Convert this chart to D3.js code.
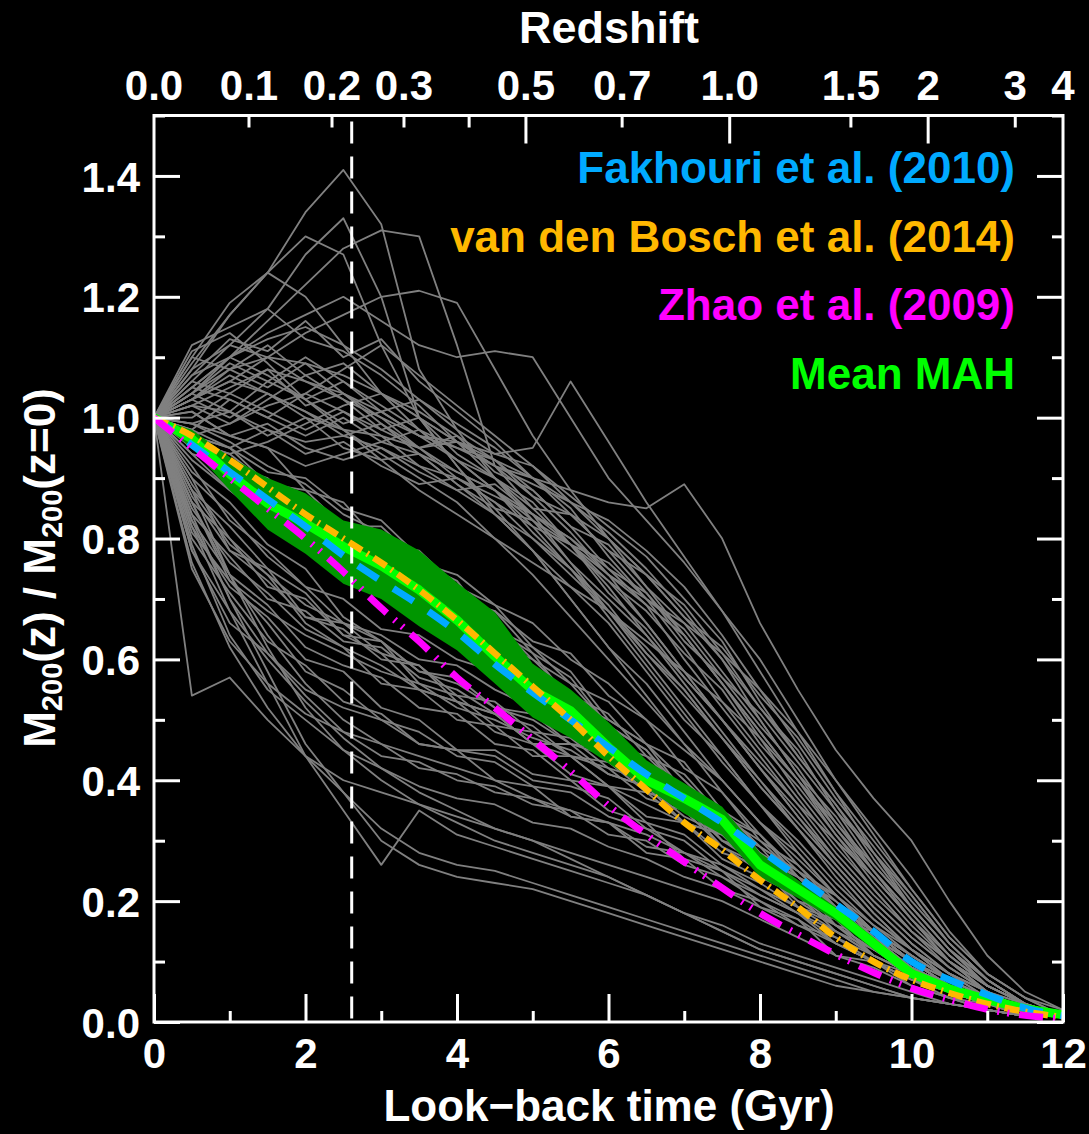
<!DOCTYPE html>
<html>
<head>
<meta charset="utf-8">
<script src="https://cdn.jsdelivr.net/npm/d3@7"></script>
<style>
  html, body { margin: 0; background: #000; }
  svg { display: block; }
  text { font-family: "Liberation Sans", Arial, Helvetica, sans-serif; font-weight: bold; }
</style>
</head>
<body>
<svg id="chart" width="1089" height="1134"></svg>
<script>
// Snapshot look-back times (Gyr)
const lookbackGyr = [0, 0.5, 1, 1.5, 2, 2.5, 3, 3.5, 4, 4.5, 5, 5.5, 6, 6.5, 7, 7.5, 8, 8.5, 9, 9.5, 10, 10.5, 11, 11.5, 12];

// Individual halo mass accretion histories, M200(z)/M200(0) in percent
const haloHistoriesPct = [
  [100,110,119,124,134,141,132,108,98,90,84,76,68,60,52,44,36,28,21,15,10,6,4,2,1],
  [100,106,112,118,127,133,120,100,92,84,78,70,62,56,48,40,33,26,20,14,10,6,4,2,1],
  [100,104,110,116,122,128,131,130,112,92,85,79,72,64,56,48,40,32,24,17,12,8,5,3,1],
  [100,109,117,124,130,127,112,100,92,85,78,70,62,54,46,38,31,24,18,13,9,6,4,2,1],
  [100,103,106,110,114,117,120,121,119,108,97,88,80,72,64,56,47,38,30,22,15,10,6,3,1],
  [100,108,117,124,120,112,104,98,93,88,82,75,67,59,51,43,36,29,22,16,11,7,4,2,1],
  [100,105,110,114,117,120,116,112,110,111,110,100,90,83,76,68,60,50,40,32,24,15,8,4,2],
  [100,103,107,104,100,98,97,95,96,94,95,106,96,86,77,68,58,48,38,28,20,13,7,3,1],
  [100,102,105,108,106,103,100,97,96,93,90,88,86,85,89,80,66,55,45,37,30,20,11,5,2],
  [100,104,108,110,109,107,104,100,96,92,87,81,74,66,58,50,42,34,27,20,14,9,5,3,1],
  [100,97,99,102,104,101,98,95,90,86,80,75,68,62,55,47,40,33,26,19,13,8,5,2,1],
  [100,108,112,110,106,104,100,95,91,88,83,76,70,64,57,50,43,36,28,21,15,10,6,3,1],
  [100,102,101,98,96,97,95,92,88,84,78,72,66,58,50,44,36,30,23,17,12,8,5,2,1],
  [100,111,114,109,103,98,94,90,86,80,74,67,60,53,46,40,33,27,21,15,10,6,4,2,1],
  [100,96,94,96,99,102,104,101,97,93,88,82,75,69,60,52,44,36,30,24,17,11,6,3,1],
  [100,105,103,100,104,108,112,107,102,97,92,86,80,74,67,60,52,44,36,28,21,13,7,3,1],
  [100,99,97,95,92,94,96,94,91,88,84,79,74,70,66,61,55,48,40,31,22,14,8,4,1],
  [100,107,110,113,115,112,108,103,99,95,90,84,78,71,64,56,48,40,32,25,18,11,6,3,1],
  [100,103,106,104,101,98,93,88,84,80,76,72,68,63,58,53,47,40,33,26,19,12,7,3,1],
  [100,96,93,87,84,81,75,73,68,62,59,53,49,42,39,33,27,23,19,14,10,6,4,2,1],
  [100,98,95,91,90,85,83,77,72,66,60,56,49,45,38,35,29,25,19,15,10,7,4,2,1],
  [100,94,88,86,80,78,75,69,67,62,59,53,50,46,40,34,30,24,20,15,11,7,4,2,1],
  [100,97,95,89,86,82,78,76,70,63,58,53,46,42,36,32,26,21,17,13,9,6,3,2,1],
  [100,99,96,92,89,84,81,76,74,69,66,60,56,50,45,40,33,28,21,16,12,7,4,2,1],
  [100,95,90,87,82,80,74,72,65,62,56,50,47,40,37,30,26,21,16,12,8,5,3,2,1],
  [100,101,97,95,88,86,79,78,72,69,62,58,50,46,38,35,28,24,19,15,11,7,4,2,1],
  [100,93,88,83,82,79,78,73,70,63,60,54,51,44,41,34,31,25,21,15,11,7,4,2,1],
  [100,97,92,90,84,82,77,75,70,68,61,57,49,45,37,34,27,24,18,14,10,7,4,2,1],
  [100,96,94,89,88,82,80,73,71,65,62,56,53,46,43,35,31,24,21,15,11,7,4,2,1],
  [100,98,91,88,82,81,75,74,69,68,63,61,54,50,42,38,30,26,19,15,10,6,3,2,1],
  [100,94,92,87,87,82,82,76,73,65,61,53,49,42,39,32,29,22,19,13,9,6,3,2,1],
  [100,80,71,63,59,53,51,46,45,40,39,34,33,28,27,22,20,16,14,10,8,5,3,2,1],
  [100,85,76,71,65,62,59,55,53,51,46,44,39,36,33,27,24,21,15,12,9,6,3,2,1],
  [100,88,82,75,71,64,61,55,53,48,46,41,39,33,31,26,23,19,16,11,8,5,3,2,1],
  [100,78,66,61,55,52,50,46,45,44,40,39,37,32,30,25,21,18,13,10,7,5,3,1,1],
  [100,90,84,77,72,66,63,58,57,52,51,46,45,39,36,29,26,19,17,11,8,5,3,2,1],
  [100,83,74,69,62,59,57,52,51,46,45,40,39,34,33,28,26,20,18,12,9,6,3,2,1],
  [100,87,78,73,67,66,61,59,53,51,46,46,41,39,33,31,25,23,16,14,9,6,3,2,1],
  [100,82,72,67,60,58,52,50,45,45,41,40,35,33,27,25,19,17,11,10,6,4,2,1,1],
  [100,91,86,79,75,67,63,56,54,49,48,44,43,38,36,30,28,21,19,12,9,6,3,2,1],
  [100,54,57,50,44,40,38,36,34,32,30,28,26,24,22,20,17,14,11,9,6,4,3,2,1],
  [100,86,74,64,56,50,46,44,42,40,37,35,33,31,28,25,22,18,15,11,8,5,3,2,1],
  [100,89,80,74,66,62,56,55,50,49,44,44,39,38,33,31,25,23,17,15,10,6,4,2,1],
  [100,76,62,52,44,38,32,28,26,25,23,21,19,17,15,13,11,9,7,5,4,3,2,1,1],
  [100,82,68,56,44,35,26,35,31,29,27,25,23,21,18,16,13,11,9,7,5,3,2,1,1],
  [100,84,70,58,46,38,30,26,24,23,22,20,18,16,14,12,10,8,6,5,4,3,2,1,1],
  [100,88,74,62,52,45,40,36,33,30,28,26,24,21,18,15,12,10,8,6,4,3,2,1,1],
  [100,78,68,60,53,47,42,38,35,32,30,27,24,21,18,15,12,10,8,6,4,3,2,1,1],
  [100,104,101,106,103,99,101,97,95,92,90,86,83,78,72,64,55,46,37,29,21,13,7,3,1],
  [100,98,103,100,97,100,96,98,93,90,85,84,80,74,69,61,52,45,35,28,19,12,6,3,1],
  [100,106,104,108,102,104,99,95,97,91,88,82,79,72,66,58,50,41,34,25,17,10,6,3,1],
  [100,101,97,99,95,93,95,91,88,89,84,80,75,71,63,57,49,42,33,25,18,11,6,3,1],
  [100,103,108,105,109,104,101,103,98,94,92,87,82,77,70,63,53,44,36,27,19,12,6,3,1],
  [100,97,95,98,94,96,92,89,90,86,82,79,76,70,65,57,51,43,35,26,19,12,7,3,1],
  [100,105,110,107,103,106,102,98,95,93,87,84,78,74,67,62,54,47,38,30,22,14,8,4,1],
  [100,99,101,97,100,95,93,94,89,85,83,78,73,68,61,55,46,39,31,24,17,10,5,2,1],
  [100,102,99,103,107,103,98,100,96,92,89,86,81,75,68,60,50,41,32,24,17,10,5,2,1],
  [100,100,104,101,98,101,97,92,90,87,84,80,74,69,64,56,48,40,31,23,16,10,5,2,1],
  [100,107,113,111,116,110,113,106,101,96,90,85,77,70,62,53,45,37,29,22,15,9,5,2,1],
  [100,110,108,112,107,109,104,100,94,90,83,79,71,65,57,50,42,34,26,19,13,8,4,2,1],
  [100,104,109,106,110,106,101,97,93,88,81,75,69,61,55,47,39,32,25,18,12,7,4,2,1],
  [100,112,115,118,113,111,107,102,96,90,86,79,73,66,58,50,42,35,27,20,14,9,5,2,1],
  [100,103,100,104,101,97,99,94,89,84,80,74,68,61,54,47,39,32,25,18,12,8,4,2,1],
  [100,88,79,74,69,66,64,60,59,55,52,48,45,40,37,32,27,23,18,13,9,6,3,2,1],
  [100,84,77,70,68,63,62,57,55,51,49,44,42,37,35,29,25,20,16,12,8,5,3,2,1],
  [100,92,83,78,72,70,65,64,60,58,53,51,46,44,38,35,29,25,19,15,10,6,4,2,1],
  [100,81,73,68,64,61,58,56,52,50,47,45,41,39,34,31,26,22,17,13,9,6,3,2,1],
  [100,86,80,72,70,64,63,58,56,52,50,46,44,38,36,30,27,21,18,13,9,6,3,2,1],
  [100,90,78,75,67,65,60,59,54,53,48,47,42,40,35,32,26,23,17,14,9,6,3,2,1],
  [100,79,64,55,50,45,42,39,37,36,33,32,29,27,24,22,19,16,13,10,7,5,3,1,1],
  [100,83,70,61,54,48,46,42,41,38,37,34,33,29,28,24,21,18,14,11,8,5,3,2,1],
  [100,86,73,66,58,55,50,48,44,43,39,38,34,32,28,26,22,19,15,11,8,5,3,2,1],
  [100,75,63,56,51,48,44,43,40,39,36,35,31,30,26,24,20,17,13,10,7,4,2,1,1]
];

// Mean MAH and its 1-sigma band
const meanMAH  = [1,0.965,0.907,0.858,0.825,0.787,0.755,0.715,0.665,0.605,0.549,0.515,0.455,0.40,0.37,0.335,0.26,0.22,0.18,0.13,0.08,0.055,0.037,0.022,0.012];
const bandLow  = [1,0.95,0.88,0.815,0.775,0.725,0.70,0.655,0.615,0.56,0.504,0.47,0.428,0.387,0.345,0.31,0.24,0.205,0.168,0.12,0.073,0.05,0.034,0.02,0.011];
const bandHigh = [1,0.98,0.935,0.90,0.875,0.83,0.815,0.78,0.727,0.678,0.593,0.55,0.496,0.433,0.395,0.356,0.28,0.235,0.19,0.14,0.087,0.06,0.04,0.024,0.013];

// Model predictions
const fakhouri2010    = [1,0.955,0.91,0.865,0.82,0.772,0.73,0.69,0.645,0.592,0.545,0.50,0.455,0.41,0.37,0.33,0.285,0.24,0.195,0.15,0.10,0.07,0.045,0.023,0.01];
const vandenBosch2014 = [1,0.97,0.93,0.885,0.84,0.80,0.76,0.715,0.665,0.61,0.555,0.50,0.44,0.385,0.33,0.285,0.235,0.19,0.14,0.10,0.07,0.048,0.03,0.017,0.008];
const zhao2009        = [1,0.95,0.90,0.85,0.80,0.745,0.685,0.63,0.57,0.52,0.468,0.415,0.358,0.31,0.265,0.222,0.18,0.145,0.112,0.082,0.056,0.037,0.021,0.011,0.005];

// Axis ticks
const timeMajorTicks = [0, 2, 4, 6, 8, 10, 12];
const timeMinorTicks = [1, 3, 5, 7, 9, 11];
const massMajorTicks = [0, 0.2, 0.4, 0.6, 0.8, 1.0, 1.2, 1.4];
const massMinorTicks = [0.1, 0.3, 0.5, 0.7, 0.9, 1.1, 1.3, 1.5];
const redshiftLabels = ["0.0", "0.1", "0.2", "0.3", "0.4", "0.5", "0.7", "1.0", "1.5", "2", "3", "4"];
const redshiftGyr    = [0, 1.254, 2.35, 3.30, 4.16, 4.91, 6.18, 7.60, 9.20, 10.22, 11.37, 12.0];
const redshiftMajor  = ["0.5", "1.0", "2"];
const redshiftUnlabeled = ["0.4"];
const refLookbackGyr = 2.61;

const legendEntries = [
  { text: "Fakhouri et al. (2010)", color: "#00aaff" },
  { text: "van den Bosch et al. (2014)", color: "#ffb800" },
  { text: "Zhao et al. (2009)", color: "#ff00ff" },
  { text: "Mean MAH", color: "#00ff00" }
];

const svg = d3.select("#chart");
const W = 1089, H = 1134;
svg.append("rect").attr("width", W).attr("height", H).attr("fill", "#000");

const x = d3.scaleLinear().domain([0, 12]).range([154, 1063]);
const y = d3.scaleLinear().domain([0, 1.5]).range([1022, 115.5]);

const plot = svg.append("g");
plot.append("clipPath").attr("id", "clip")
  .append("rect").attr("x", x(0)).attr("y", y(1.5)).attr("width", x(12) - x(0)).attr("height", y(0) - y(1.5));
const inner = plot.append("g").attr("clip-path", "url(#clip)");

// Individual halos
const grayLine = d3.line().x((d, i) => x(lookbackGyr[i])).y(d => y(d / 100));
inner.append("g").selectAll("path").data(haloHistoriesPct).join("path")
  .attr("d", grayLine)
  .attr("fill", "none")
  .attr("stroke", "#808080")
  .attr("stroke-width", 1.8)
  .attr("stroke-linejoin", "round");

// Scatter band
const band = d3.area()
  .x((d, i) => x(lookbackGyr[i]))
  .y0((d, i) => y(bandLow[i]))
  .y1((d, i) => y(bandHigh[i]));
inner.append("path").datum(lookbackGyr).attr("d", band).attr("fill", "#009600");

// Mean MAH
const valLine = d3.line().x((d, i) => x(lookbackGyr[i])).y(d => y(d));
inner.append("path").datum(meanMAH).attr("d", valLine)
  .attr("fill", "none").attr("stroke", "#00ff00").attr("stroke-width", 9)
  .attr("stroke-linejoin", "round");

// Reference redshift marker
inner.append("line")
  .attr("x1", x(refLookbackGyr)).attr("x2", x(refLookbackGyr))
  .attr("y1", y(1.5) + 6).attr("y2", y(0))
  .attr("stroke", "#fff").attr("stroke-width", 3)
  .attr("stroke-dasharray", "22,13");

// Model curves
const smoothLine = d3.line().x((d, i) => x(lookbackGyr[i])).y(d => y(d)).curve(d3.curveMonotoneX);
const models = [
  { data: fakhouri2010, color: "#00aaff", width: 7, dash: "24,18" },
  { data: vandenBosch2014, color: "#ffb800", width: 6.5, dash: "15,6,2,6" },
  { data: zhao2009, color: "#ff00ff", width: 7, dash: "24,10,2,8,2,10" }
];
models.forEach(m => {
  inner.append("path").datum(m.data).attr("d", smoothLine)
    .attr("fill", "none").attr("stroke", m.color).attr("stroke-width", m.width)
    .attr("stroke-dasharray", m.dash).attr("stroke-linecap", "butt");
});

// Axes
function styleAxis(g) {
  g.select(".domain").remove();
  g.selectAll(".tick line").attr("stroke", "#fff").attr("stroke-width", 3);
  g.selectAll(".tick text").attr("fill", "#fff").attr("font-size", 42)
    .attr("font-family", "'Liberation Sans', Arial, sans-serif").attr("font-weight", "bold");
}

// bottom
svg.append("g").attr("transform", `translate(0,${y(0)})`)
  .call(d3.axisBottom(x).tickValues(timeMajorTicks).tickSize(-28).tickPadding(16).tickFormat(d3.format("d")))
  .call(styleAxis);
svg.append("g").attr("transform", `translate(0,${y(0)})`)
  .call(d3.axisBottom(x).tickValues(timeMinorTicks).tickSize(-11).tickFormat(""))
  .call(styleAxis);

// left
const leftAx = svg.append("g").attr("transform", `translate(${x(0)},0)`)
  .call(d3.axisLeft(y).tickValues(massMajorTicks).tickSize(-26).tickPadding(14).tickFormat(d3.format(".1f")))
  .call(styleAxis);
leftAx.selectAll(".tick text").attr("dy", "0.36em");
svg.append("g").attr("transform", `translate(${x(0)},0)`)
  .call(d3.axisLeft(y).tickValues(massMinorTicks).tickSize(-11).tickFormat(""))
  .call(styleAxis);

// right
svg.append("g").attr("transform", `translate(${x(12)},0)`)
  .call(d3.axisRight(y).tickValues(massMajorTicks).tickSize(-26).tickFormat(""))
  .call(styleAxis);
svg.append("g").attr("transform", `translate(${x(12)},0)`)
  .call(d3.axisRight(y).tickValues(massMinorTicks).tickSize(-11).tickFormat(""))
  .call(styleAxis);

// top (redshift)
const zIndex = redshiftLabels.map((l, i) => i);
const topMajor = zIndex.filter(i => redshiftMajor.includes(redshiftLabels[i]));
const topMinor = zIndex.filter(i => !redshiftMajor.includes(redshiftLabels[i]) && i > 0 && i < redshiftLabels.length - 1);
const xz = i => x(redshiftGyr[i]);
const topG = svg.append("g").attr("transform", `translate(0,${y(1.5)})`);
topG.selectAll("line.zmaj").data(topMajor).join("line")
  .attr("x1", xz).attr("x2", xz).attr("y1", 0).attr("y2", 28)
  .attr("stroke", "#fff").attr("stroke-width", 3);
topG.selectAll("line.zmin").data(topMinor).join("line")
  .attr("x1", xz).attr("x2", xz).attr("y1", 0).attr("y2", 12)
  .attr("stroke", "#fff").attr("stroke-width", 3);
topG.selectAll("text").data(zIndex.filter(i => !redshiftUnlabeled.includes(redshiftLabels[i]))).join("text")
  .attr("x", xz).attr("y", -15.5)
  .attr("text-anchor", "middle").attr("fill", "#fff").attr("font-size", 42)
  .text(i => redshiftLabels[i]);

// frame
svg.append("rect")
  .attr("x", x(0)).attr("y", y(1.5)).attr("width", x(12) - x(0)).attr("height", y(0) - y(1.5))
  .attr("fill", "none").attr("stroke", "#fff").attr("stroke-width", 3);

// Titles
svg.append("text").attr("x", 609).attr("y", 43).attr("text-anchor", "middle")
  .attr("fill", "#fff").attr("font-size", 45).text("Redshift");
svg.append("text").attr("x", 609).attr("y", 1121).attr("text-anchor", "middle")
  .attr("fill", "#fff").attr("font-size", 44).text("Look\u2212back time (Gyr)");

const yl = svg.append("text").attr("transform", "translate(55,568) rotate(-90)")
  .attr("text-anchor", "middle").attr("fill", "#fff").attr("font-size", 44);
yl.append("tspan").text("M");
yl.append("tspan").attr("font-size", 29).attr("dy", 7).text("200");
yl.append("tspan").attr("dy", -7).text("(z) / M");
yl.append("tspan").attr("font-size", 29).attr("dy", 7).text("200");
yl.append("tspan").attr("dy", -7).text("(z=0)");

// Legend
svg.append("g").selectAll("text").data(legendEntries).join("text")
  .attr("x", 1015).attr("y", (d, i) => 183 + i * 68.5)
  .attr("text-anchor", "end").attr("fill", d => d.color).attr("font-size", 44)
  .text(d => d.text);
</script>
</body>
</html>
